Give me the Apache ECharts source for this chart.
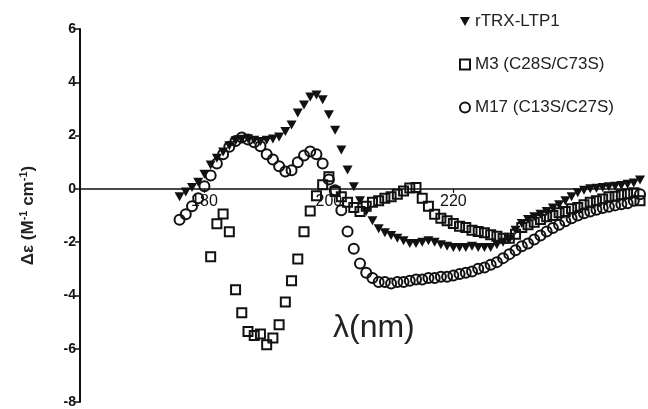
<!DOCTYPE html>
<html>
<head>
<meta charset="utf-8">
<script src="https://cdn.jsdelivr.net/npm/echarts@6/dist/echarts.min.js"></script>
<style>html,body{margin:0;padding:0;background:#fff}#c{width:648px;height:409px}</style>
</head>
<body>
<div id="c"></div>
<script>
var wavelengths = [176,177,178,179,180,181,182,183,184,185,186,187,188,189,190,191,192,193,194,195,196,197,198,199,200,201,202,203,204,205,206,207,208,209,210,211,212,213,214,215,216,217,218,219,220,221,222,223,224,225,226,227,228,229,230,231,232,233,234,235,236,237,238,239,240,241,242,243,244,245,246,247,248,249,250];
var rTRX = [-0.3,-0.12,0.05,0.25,0.55,0.9,1.15,1.38,1.62,1.8,1.86,1.88,1.82,1.78,1.82,1.87,1.95,2.15,2.4,2.85,3.15,3.45,3.52,3.34,2.78,2.2,1.46,0.71,0.08,-0.45,-0.85,-1.2,-1.5,-1.65,-1.75,-1.85,-1.95,-2.05,-2.05,-2.0,-1.95,-2.0,-2.1,-2.15,-2.2,-2.2,-2.2,-2.15,-2.2,-2.2,-2.2,-2.1,-2.0,-1.9,-1.55,-1.3,-1.15,-1.05,-0.95,-0.85,-0.72,-0.6,-0.45,-0.3,-0.15,-0.05,0.0,0.02,0.05,0.08,0.1,0.13,0.17,0.22,0.33];
var m3 = [null,null,null,null,null,-2.55,-1.31,-0.94,-1.61,-3.79,-4.65,-5.35,-5.5,-5.45,-5.85,-5.6,-5.1,-4.25,-3.45,-2.63,-1.61,-0.83,-0.26,0.15,0.45,-0.1,-0.3,-0.5,-0.7,-0.85,-0.65,-0.5,-0.45,-0.35,-0.3,-0.2,-0.08,0.03,0.05,-0.35,-0.65,-0.95,-1.1,-1.2,-1.3,-1.4,-1.45,-1.55,-1.6,-1.65,-1.72,-1.78,-1.85,-1.85,-1.7,-1.45,-1.35,-1.25,-1.15,-1.05,-1.0,-0.9,-0.85,-0.75,-0.7,-0.6,-0.5,-0.45,-0.38,-0.3,-0.28,-0.22,-0.18,-0.15,-0.45];
var m17 = [-1.16,-0.95,-0.65,-0.35,0.1,0.5,0.95,1.3,1.58,1.8,1.93,1.85,1.75,1.6,1.3,1.1,0.85,0.65,0.7,1.0,1.25,1.4,1.3,0.95,0.35,-0.05,-0.8,-1.6,-2.25,-2.8,-3.15,-3.35,-3.5,-3.5,-3.55,-3.5,-3.5,-3.45,-3.4,-3.4,-3.35,-3.35,-3.3,-3.3,-3.25,-3.2,-3.15,-3.1,-3.0,-2.95,-2.85,-2.75,-2.6,-2.45,-2.3,-2.15,-2.05,-1.9,-1.75,-1.6,-1.47,-1.35,-1.22,-1.1,-1.0,-0.92,-0.85,-0.78,-0.72,-0.67,-0.62,-0.58,-0.54,-0.45,-0.2];
var seriesNames = ['rTRX-LTP1','M3 (C28S/C73S)','M17 (C13S/C27S)'];
var xTickLabels = [180,200,220];
var yTicks = {min:-8, max:6, step:2};

function pairs(vals){
  var out = [];
  for (var i=0;i<wavelengths.length;i++){ if (vals[i]!==null) out.push([wavelengths[i], vals[i]]); }
  return out;
}
var gridTop = 29, gridBottom = 7, H = 409;
var plotH = H - gridTop - gridBottom;
// shift the x axis (line, ticks, labels) from the grid bottom up to y = 0
var zeroOffset = -plotH * (0 - yTicks.min) / (yTicks.max - yTicks.min);

var triPath = 'path://M0,0 L10,0 L5,9 Z';
var chart = echarts.init(document.getElementById('c'), null, {renderer:'canvas'});
chart.setOption({
  animation:false,
  backgroundColor:'#fff',
  grid:{left:80, right:8, top:gridTop, bottom:gridBottom, containLabel:false},
  xAxis:{
    type:'value', min:160, max:250, interval:20,
    offset: zeroOffset,
    axisLine:{onZero:false, lineStyle:{color:'#111', width:1.5}},
    axisTick:{show:true, length:4, lineStyle:{color:'#111', width:1.2}, customValues:xTickLabels},
    axisLabel:{customValues:xTickLabels, color:'#111', fontSize:16, fontFamily:'Liberation Sans, Arial, sans-serif', margin:5},
    splitLine:{show:false}
  },
  yAxis:{
    type:'value', min:yTicks.min, max:yTicks.max, interval:yTicks.step,
    axisLine:{show:true, onZero:false, lineStyle:{color:'#111', width:2}},
    axisTick:{show:true, length:5, lineStyle:{color:'#111', width:1.5}},
    axisLabel:{color:'#111', fontSize:14, fontWeight:'bold', fontFamily:'Liberation Sans, Arial, sans-serif', margin:4},
    splitLine:{show:false},
    name:'{a|Δε (M}{s|-1}{a| cm}{s|-1}{a|)}',
    nameLocation:'middle', nameRotate:90, nameGap:42,
    nameTextStyle:{
      rich:{
        a:{fontSize:17, fontWeight:'bold', color:'#222', fontFamily:'Liberation Sans, Arial, sans-serif', lineHeight:20},
        s:{fontSize:11, fontWeight:'bold', color:'#222', fontFamily:'Liberation Sans, Arial, sans-serif', lineHeight:20, verticalAlign:'top', padding:[0,0,6,0]}
      }
    }
  },
  legend:{
    orient:'vertical', left:454, top:8, itemGap:26, itemWidth:10, itemHeight:10,
    textStyle:{fontSize:17, color:'#222', fontFamily:'Liberation Sans, Arial, sans-serif'},
    data:[
      {name:seriesNames[0], icon:triPath, itemStyle:{color:'#111', borderWidth:0}},
      {name:seriesNames[1], icon:'rect', itemStyle:{color:'#fff', borderColor:'#111', borderWidth:2}},
      {name:seriesNames[2], icon:'circle', itemStyle:{color:'#fff', borderColor:'#111', borderWidth:2}}
    ]
  },
  graphic:[{type:'text', left:333, top:312, style:{text:'λ(nm)', fontSize:32, fill:'#222', fontFamily:'Liberation Sans, Arial, sans-serif'}}],
  series:[
    {name:seriesNames[0], type:'scatter', data:pairs(rTRX), symbol:'triangle', symbolRotate:180, symbolSize:[10,9],
     itemStyle:{color:'#111', opacity:1}, z:3},
    {name:seriesNames[1], type:'scatter', data:pairs(m3), symbol:'rect', symbolSize:9,
     itemStyle:{color:'rgba(255,255,255,0)', borderColor:'#111', borderWidth:2, opacity:1}, z:4},
    {name:seriesNames[2], type:'scatter', data:pairs(m17), symbol:'circle', symbolSize:10,
     itemStyle:{color:'rgba(255,255,255,0)', borderColor:'#111', borderWidth:2, opacity:1}, z:5}
  ]
});
</script>
</body>
</html>
